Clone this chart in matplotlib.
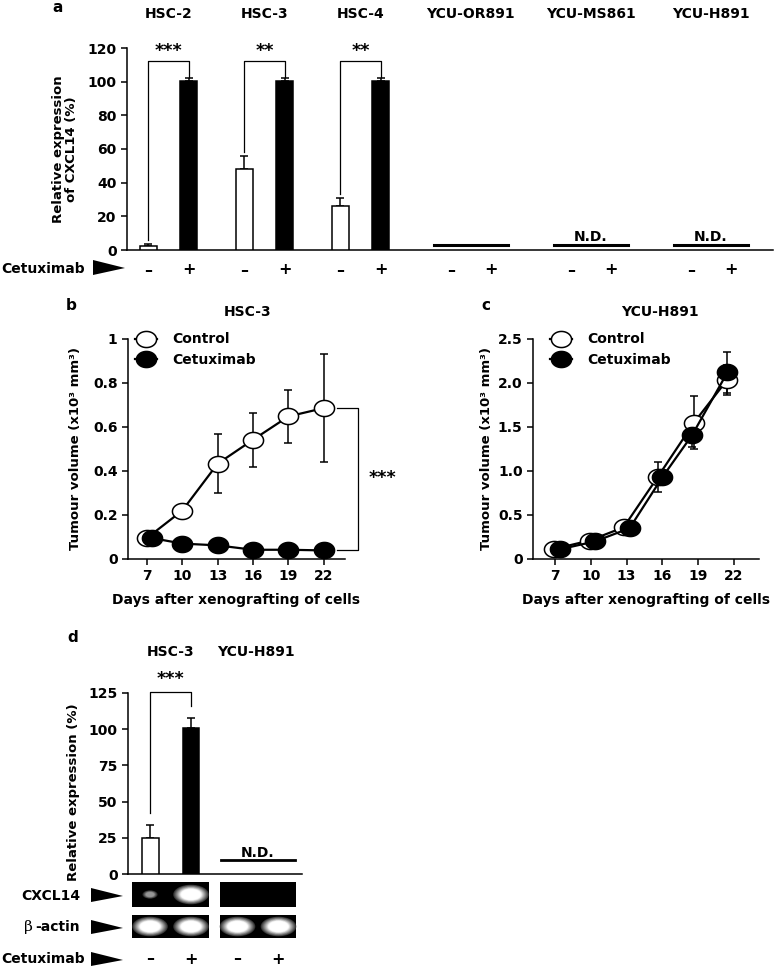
import numpy as np
import matplotlib
matplotlib.use("Agg")
import matplotlib.pyplot as plt
import matplotlib.transforms as mtransforms
from matplotlib.patches import Rectangle, Ellipse, Polygon
from matplotlib.path import Path

plt.rcParams['font.family'] = 'DejaVu Sans'
plt.rcParams['font.weight'] = 'bold'
plt.rcParams['axes.labelweight'] = 'bold'
plt.rcParams['axes.linewidth'] = 1.1

W, H = 775, 966

## panel a: CXCL14 expression in cell lines
groups_a = ['HSC-2', 'HSC-3', 'HSC-4', 'YCU-OR891', 'YCU-MS861', 'YCU-H891']
ctrl_a = [2.5, 48.0, 26.0]
ctrl_a_err = [1.0, 8.0, 5.0]
cetux_a = [100.5, 100.5, 100.5]
cetux_a_err = [1.5, 1.5, 1.5]
stars_a = ['***', '**', '**']
nd_a = ['', 'N.D.', 'N.D.']
nd_level_a = 3.0

## panel b: HSC-3 xenograft
days = [7, 10, 13, 16, 19, 22]
b_ctrl_x = [7, 10, 13, 16, 19, 22]
b_ctrl = [0.095, 0.22, 0.433, 0.542, 0.648, 0.686]
b_ctrl_err = [0.01, 0.015, 0.135, 0.122, 0.12, 0.245]
b_cetux_x = [7.45, 10, 13, 16, 19, 22]
b_cetux = [0.095, 0.07, 0.062, 0.042, 0.042, 0.039]
b_cetux_err = [0.01, 0.01, 0.01, 0.01, 0.01, 0.01]

## panel c: YCU-H891 xenograft
c_ctrl_x = [6.95, 9.9, 12.75, 15.6, 18.65, 21.4]
c_ctrl = [0.115, 0.21, 0.36, 0.93, 1.55, 2.03]
c_ctrl_err = [0.01, 0.02, 0.02, 0.17, 0.30, 0.17]
c_cetux_x = [7.4, 10.35, 13.25, 16.0, 18.5, 21.45]
c_cetux = [0.11, 0.20, 0.35, 0.93, 1.41, 2.12]
c_cetux_err = [0.01, 0.02, 0.02, 0.05, 0.14, 0.23]

## panel d: tumour tissue expression
groups_d = ['HSC-3', 'YCU-H891']
ctrl_d, ctrl_d_err = 25.0, 9.0
cetux_d, cetux_d_err = 101.0, 7.0
nd_level_d = 9.5
cxcl14_band = [0.35, 1.0, 0.0, 0.0]
actin_band = [1.0, 1.0, 1.0, 1.0]


def box(l, t, r, b):
    # pixel box -> figure fraction rect
    return [l / W, 1 - b / H, (r - l) / W, (b - t) / H]


def fy(py):
    return 1 - py / H


fig = plt.figure(figsize=(W / 100, H / 100), dpi=100)

# overlay in pixel coords for free text / arrow heads
ov = fig.add_axes([0, 0, 1, 1], zorder=10)
ov.set_xlim(0, W)
ov.set_ylim(H, 0)
ov.axis('off')


def wedge(x0, x1, ytop, ybot, ytip):
    ov.add_patch(Polygon([(x0, ytop), (x0, ybot), (x1, ytip)], closed=True,
                         color='black', lw=0))


def style(ax):
    ax.spines['top'].set_visible(False)
    ax.spines['right'].set_visible(False)
    ax.tick_params(direction='out', length=4, width=1.1, labelsize=10)


t = np.linspace(0, 2 * np.pi, 80)
oval = Path(np.column_stack([1.25 * np.cos(t), np.sin(t)]), closed=True)

# ---------------- panel a ----------------
ax = fig.add_axes(box(127, 48, 773, 250))
style(ax)
gx = np.r_[np.arange(3), 3.15 + 1.25 * np.arange(3)]
off, bw = 0.21, 0.18
n = len(ctrl_a)
ax.bar(gx[:n] - off, ctrl_a, bw, color='white', edgecolor='black', lw=1.1, zorder=3)
ax.bar(gx[:n] + off, cetux_a, bw, color='black', edgecolor='black', lw=1.1, zorder=3)
ax.errorbar(gx[:n] - off, ctrl_a, yerr=[np.zeros(n), ctrl_a_err], fmt='none',
            ecolor='black', elinewidth=1.1, capsize=3, capthick=1.1, zorder=2)
ax.errorbar(gx[:n] + off, cetux_a, yerr=[np.zeros(n), cetux_a_err], fmt='none',
            ecolor='black', elinewidth=1.1, capsize=3, capthick=1.1, zorder=2)
for i in range(n):
    xl, xr = gx[i] - off, gx[i] + off
    ax.plot([xl, xl, xr, xr],
            [ctrl_a[i] + ctrl_a_err[i] + 2.5, 112, 112, cetux_a[i] + cetux_a_err[i] + 0.5],
            color='black', lw=0.9, clip_on=False)
    ax.text(gx[i], 118.5, stars_a[i], ha='center', va='center', fontsize=12.5)
for j, lab in enumerate(nd_a):
    g = gx[n + j]
    ax.plot([g - 0.385, g + 0.385], [nd_level_a] * 2, color='black', lw=2.2)
    if lab:
        ax.text(g, nd_level_a + 2.5, lab, ha='center', va='baseline', fontsize=10)
for i, g in enumerate(groups_a):
    ax.text(gx[i], 1.168, g, transform=ax.get_xaxis_transform(),
            ha='center', va='center', fontsize=10)
lanes = np.ravel(np.column_stack([gx - off, gx + off]))
ax.set_xticks(lanes)
ax.set_xticklabels(['\u2013', '+'] * len(groups_a), fontsize=11.5)
ax.tick_params(axis='x', length=0, pad=9)
ax.set_xlim(-0.432, 6.297)
ax.set_ylim(0, 120)
ax.set_yticks(range(0, 121, 20))
ax.set_ylabel('Relative expression\nof CXCL14 (%)', fontsize=9.5, linespacing=0.95)
ax.yaxis.set_label_coords(-0.076, 0.5)
ov.text(1, 269, 'Cetuximab', ha='left', va='center', fontsize=10)
wedge(93, 125, 260, 275, 268)
ov.text(58, 8, 'a', ha='center', va='center', fontsize=11)


# ---------------- panels b, c ----------------
def growth(ax, cx, cy, ce, tx, ty, te, xlim, ylim, yticks, ylabels, leg_x):
    style(ax)
    ax.errorbar(cx, cy, yerr=ce, fmt='none', ecolor='black', elinewidth=1.1,
                capsize=3, capthick=1.1, zorder=2)
    ax.errorbar(tx, ty, yerr=te, fmt='none', ecolor='black', elinewidth=1.1,
                capsize=3, capthick=1.1, zorder=2)
    ax.plot(cx, cy, '-', color='black', lw=1.6, marker=oval, ms=14.5, mfc='white',
            mec='black', mew=1.1, zorder=3, label='Control')
    ax.plot(tx, ty, '-', color='black', lw=1.6, marker=oval, ms=14.5, mfc='black',
            mec='black', mew=1.1, zorder=4, label='Cetuximab')
    ax.set_xlim(*xlim)
    ax.set_ylim(*ylim)
    ax.set_xticks(days)
    ax.set_yticks(yticks)
    ax.set_yticklabels(ylabels)
    ax.set_xlabel('Days after xenografting of cells', fontsize=10, labelpad=7)
    ax.set_ylabel('Tumour volume (x10\u00b3 mm\u00b3)', fontsize=9.5)
    ax.legend(loc='upper left', bbox_to_anchor=(leg_x, 1.03), frameon=False,
              borderpad=0, borderaxespad=0, handlelength=1.6, handletextpad=1.1,
              labelspacing=0.5, prop={'size': 10, 'weight': 'bold'})


axb = fig.add_axes(box(128, 339, 345, 559))
growth(axb, b_ctrl_x, b_ctrl, b_ctrl_err, b_cetux_x, b_cetux, b_cetux_err,
       (5.4, 23.8), (0, 1), [0, 0.2, 0.4, 0.6, 0.8, 1],
       ['0', '0.2', '0.4', '0.6', '0.8', '1'], 0.03)
axb.yaxis.set_label_coords(-0.212, 0.5)
axb.plot([23.1, 24.9, 24.9, 23.1], [b_ctrl[-1], b_ctrl[-1], b_cetux[-1], b_cetux[-1]],
         color='black', lw=0.9, clip_on=False)
axb.text(27.0, 0.37, '***', ha='center', va='center', fontsize=12.5, clip_on=False)
ov.text(71, 305, 'b', ha='center', va='center', fontsize=11)
ov.text(248, 312, 'HSC-3', ha='center', va='center', fontsize=10)

axc = fig.add_axes(box(533, 339, 759, 559))
growth(axc, c_ctrl_x, c_ctrl, c_ctrl_err, c_cetux_x, c_cetux, c_cetux_err,
       (5.15, 24.1), (0, 2.5), [0, 0.5, 1.0, 1.5, 2.0, 2.5],
       ['0', '0.5', '1.0', '1.5', '2.0', '2.5'], 0.075)
axc.yaxis.set_label_coords(-0.177, 0.5)
ov.text(486, 306, 'c', ha='center', va='center', fontsize=11)
ov.text(660, 312, 'YCU-H891', ha='center', va='center', fontsize=10)

# ---------------- panel d ----------------
axd = fig.add_axes(box(128, 693, 302, 874))
style(axd)
xd = np.arange(len(groups_d))
loff, bwd = 0.234, 0.194
axd.bar(xd[0] - loff, ctrl_d, bwd, color='white', edgecolor='black', lw=1.1, zorder=3)
axd.bar(xd[0] + loff, cetux_d, bwd, color='black', edgecolor='black', lw=1.1, zorder=3)
axd.errorbar([xd[0] - loff, xd[0] + loff], [ctrl_d, cetux_d],
             yerr=[[0, 0], [ctrl_d_err, cetux_d_err]], fmt='none', ecolor='black',
             elinewidth=1.1, capsize=3, capthick=1.1, zorder=2)
axd.plot([xd[0] - loff, xd[0] - loff, xd[0] + loff, xd[0] + loff],
         [ctrl_d + ctrl_d_err + 8, 125.5, 125.5, cetux_d + cetux_d_err + 8],
         color='black', lw=0.9, clip_on=False)
axd.text(xd[0], 135, '***', ha='center', va='center', fontsize=12.5, clip_on=False)
axd.plot([xd[1] - 0.42, xd[1] + 0.42], [nd_level_d] * 2, color='black', lw=2.0)
axd.text(xd[1], nd_level_d + 2.5, 'N.D.', ha='center', va='baseline', fontsize=10)
axd.set_xlim(-0.486, 1.503)
axd.set_ylim(0, 125)
axd.set_xticks([])
axd.set_yticks(range(0, 126, 25))
axd.set_ylabel('Relative expression (%)', fontsize=9.5)
axd.yaxis.set_label_coords(-0.276, 0.45)
ov.text(73, 637, 'd', ha='center', va='center', fontsize=11)
lab_tr = mtransforms.blended_transform_factory(axd.transData, fig.transFigure)
for i, g in enumerate(groups_d):
    fig.text(xd[i] - 0.02 * i, fy(652), g, transform=lab_tr, ha='center',
             va='center', fontsize=10)

# gel strips
axg = fig.add_axes(box(128, 878, 302, 942))
axg.set_xlim(axd.get_xlim())
axg.set_ylim(942, 878)
axg.axis('off')
lane_x = [xd[0] - loff, xd[0] + loff, xd[1] - loff, xd[1] + loff]
rows = [(882, 907, cxcl14_band), (915, 938, actin_band)]


def band(x, y, s):
    if s <= 0:
        return
    sz = s ** 0.8
    w, h = 0.29 * sz, 14 * sz
    peak = 0.3 + 0.7 * s
    for k in range(9):
        f = 1.4 - 0.08 * k
        g = peak * (0.2 + 0.11 * k)
        axg.add_patch(Ellipse((x, y), w * f, h * f, color=str(min(g, 1.0)), lw=0))


for top, bot, vals in rows:
    for c in xd:
        axg.add_patch(Rectangle((c - 0.435, top), 0.87, bot - top, color='black', lw=0))
    for x, s in zip(lane_x, vals):
        band(x, (top + bot) / 2, s)

ov.text(80, 896, 'CXCL14', ha='right', va='center', fontsize=10)
ov.text(80, 927, '-actin', ha='right', va='center', fontsize=10)
ov.text(33, 927, '\u03b2', ha='right', va='center', fontsize=11,
        family='DejaVu Serif', fontweight='normal')
ov.text(1, 959, 'Cetuximab', ha='left', va='center', fontsize=10)
wedge(91, 123, 888, 902, 896)
wedge(91, 123, 920, 934, 928)
wedge(91, 123, 952, 966, 960)
for x, s in zip(lane_x, ['\u2013', '+', '\u2013', '+']):
    fig.text(x, fy(959), s, transform=lab_tr, ha='center', va='center', fontsize=11.5)

fig.savefig('out.png', dpi=100)
